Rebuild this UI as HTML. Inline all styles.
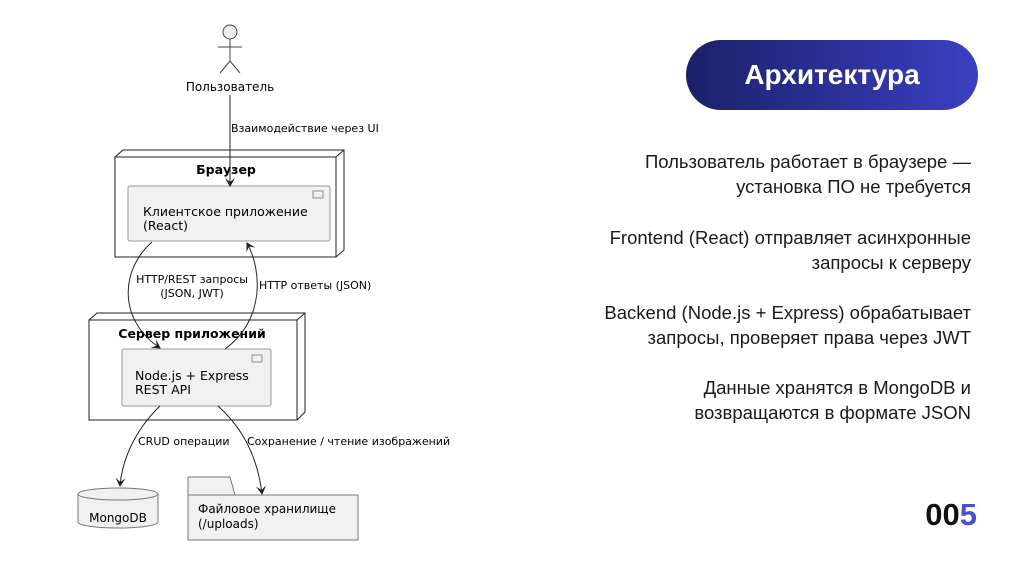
<!DOCTYPE html>
<html><head><meta charset="utf-8"><style>
html,body{margin:0;padding:0;background:#fff;}
body{width:1024px;height:574px;position:relative;overflow:hidden;font-family:"Liberation Sans",sans-serif;}
.pill{position:absolute;left:686px;top:40px;width:292px;height:70px;border-radius:35px;background:linear-gradient(90deg,#1c2068,#3a40c2);color:#fff;font-weight:bold;font-size:28px;text-align:center;line-height:70px;}
.t{position:absolute;right:53px;text-align:right;font-size:18.5px;color:#1a1a1a;line-height:25px;}
.num{position:absolute;right:47px;top:497px;font-size:31px;font-weight:bold;color:#111;}
</style></head><body>
<svg width="1024" height="574" style="position:absolute;left:0;top:0" font-family="DejaVu Sans, sans-serif" font-size="11.5">
<defs><marker id="a" markerWidth="10" markerHeight="10" refX="8" refY="5" orient="auto" markerUnits="userSpaceOnUse"><path d="M0,0 L9,5 L0,10 L4,5 Z" fill="#222"/></marker></defs>
<!-- actor -->
<circle cx="230" cy="32" r="7" fill="#eee" stroke="#444"/>
<line x1="230" y1="39" x2="230" y2="61" stroke="#444"/>
<line x1="218" y1="47" x2="242" y2="47" stroke="#444"/>
<line x1="230" y1="61" x2="220" y2="73" stroke="#444"/>
<line x1="230" y1="61" x2="240" y2="73" stroke="#444"/>
<text x="230" y="91" text-anchor="middle" font-size="12">Пользователь</text>
<text x="231" y="132" font-size="11">Взаимодействие через UI</text>
<!-- browser node -->
<path d="M115,157 L123,150 L344,150 L344,250 L336,257" fill="#fff" stroke="#222"/>
<line x1="336" y1="157" x2="344" y2="150" stroke="#222"/>
<rect x="115" y="157" width="221" height="100" fill="#fff" stroke="#222"/>
<text x="226" y="174" text-anchor="middle" font-weight="bold" font-size="12.5">Браузер</text>
<rect x="128" y="186" width="202" height="55" rx="2" fill="#f1f1f1" stroke="#999"/>
<rect x="313" y="191" width="10" height="7" fill="none" stroke="#777" stroke-width="0.8"/>
<text x="143" y="216" font-size="12.5">Клиентское приложение</text>
<text x="143" y="230" font-size="12.5">(React)</text>
<line x1="230" y1="95" x2="230" y2="186" stroke="#222" marker-end="url(#a)"/>
<!-- server node -->
<path d="M89,320 L97,313 L305,313 L305,412 L297,420" fill="#fff" stroke="#222"/>
<line x1="297" y1="320" x2="305" y2="313" stroke="#222"/>
<rect x="89" y="320" width="208" height="100" fill="#fff" stroke="#222"/>
<text x="192" y="338" text-anchor="middle" font-weight="bold" font-size="12.5">Сервер приложений</text>
<rect x="122" y="349" width="149" height="57" rx="2" fill="#f1f1f1" stroke="#999"/>
<rect x="252" y="355" width="10" height="7" fill="none" stroke="#777" stroke-width="0.8"/>
<text x="135" y="380" font-size="12.5">Node.js + Express</text>
<text x="135" y="394" font-size="12.5">REST API</text>
<!-- curves -->
<path d="M152,242 C120,270 118,320 160,348" fill="none" stroke="#222" marker-end="url(#a)"/>
<path d="M225,349 C265,320 262,270 247,243" fill="none" stroke="#222" marker-end="url(#a)"/>
<text x="192" y="283" text-anchor="middle" font-size="11">HTTP/REST запросы</text>
<text x="192" y="297" text-anchor="middle" font-size="11">(JSON, JWT)</text>
<text x="259" y="289" font-size="11">HTTP ответы (JSON)</text>
<!-- db -->
<path d="M160,406 C135,430 122,460 120,486" fill="none" stroke="#222" marker-end="url(#a)"/>
<text x="138" y="445" font-size="11">CRUD операции</text>
<path d="M218,406 C245,430 258,460 262,494" fill="none" stroke="#222" marker-end="url(#a)"/>
<text x="247" y="445" font-size="11">Сохранение / чтение изображений</text>
<path d="M78,494 L78,522 A40,6 0 0 0 158,522 L158,494" fill="#f1f1f1" stroke="#777"/>
<ellipse cx="118" cy="494" rx="40" ry="6" fill="#f1f1f1" stroke="#777"/>
<text x="118" y="522" text-anchor="middle" font-size="12">MongoDB</text>
<!-- folder -->
<path d="M188,495 L188,477 L230,477 L235,495" fill="#f1f1f1" stroke="#777"/>
<rect x="188" y="495" width="170" height="45" fill="#f1f1f1" stroke="#777"/>
<text x="198" y="513" font-size="12">Файловое хранилище</text>
<text x="198" y="528" font-size="12">(/uploads)</text>
</svg>
<div class="pill">Архитектура</div>
<div class="t" style="top:149px">Пользователь работает в браузере —<br>установка ПО не требуется</div>
<div class="t" style="top:225px">Frontend (React) отправляет асинхронные<br>запросы к серверу</div>
<div class="t" style="top:300px">Backend (Node.js + Express) обрабатывает<br>запросы, проверяет права через JWT</div>
<div class="t" style="top:375px">Данные хранятся в MongoDB и<br>возвращаются в формате JSON</div>
<div class="num">00<span style="color:#4a50d0">5</span></div>
</body></html>
